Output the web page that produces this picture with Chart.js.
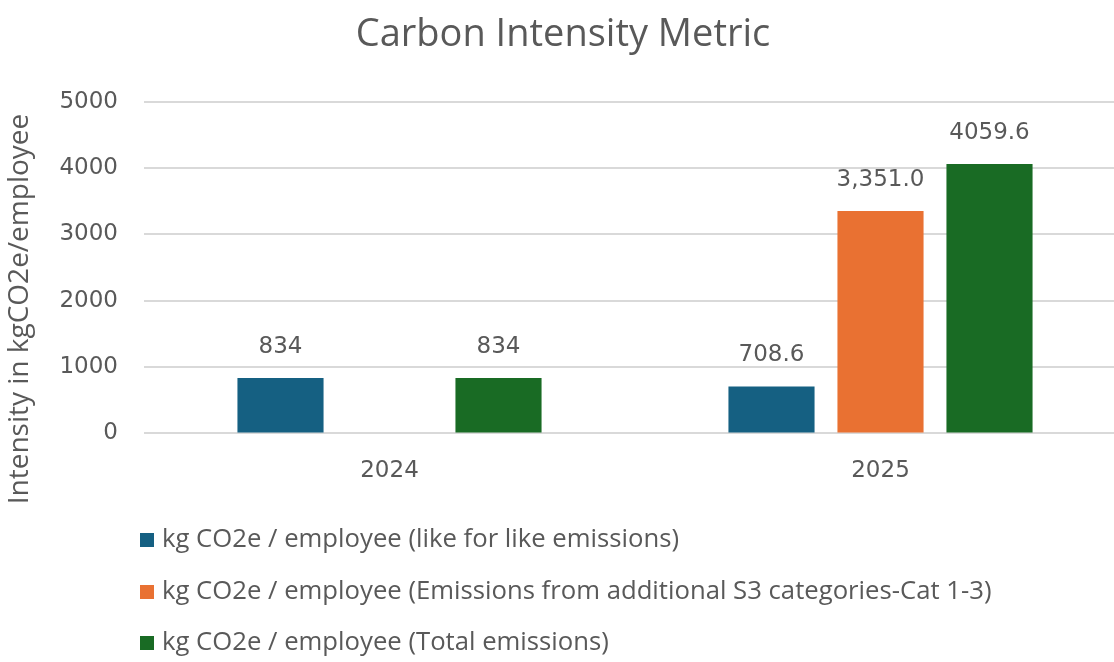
<!DOCTYPE html>
<html><head><meta charset="utf-8">
<script src="https://cdn.jsdelivr.net/npm/chart.js@4.4.1/dist/chart.umd.min.js"></script>
<style>
html,body{margin:0;padding:0;background:#fff;overflow:hidden;width:1114px;height:662px;}
#wrap{position:absolute;left:0;top:0;width:1130px;height:662px;}
</style></head>
<body>
<div id="wrap"><canvas id="c" width="1130" height="662"></canvas></div>
<script>
const categories = ['2024', '2025'];
const seriesNames = [
  'kg CO2e / employee (like for like emissions)',
  'kg CO2e / employee (Emissions from additional S3 categories-Cat 1-3)',
  'kg CO2e / employee (Total emissions)'
];
const likeForLike = [834, 708.6];
const additionalS3 = [null, 3351.0];
const totalEmissions = [834, 4059.6];
const likeForLikeLabels = ['834', '708.6'];
const additionalS3Labels = ['', '3,351.0'];
const totalLabels = ['834', '4059.6'];
const yTicks = [0, 1000, 2000, 3000, 4000, 5000];
const yTickLabels = ['0', '1000', '2000', '3000', '4000', '5000'];
const yAxisTitle = 'Intensity in kgCO2e/employee';

const TXT = '#595959';
const NUMFONT = '"DejaVu Sans", sans-serif';
const TXTFONT = '"Open Sans", "Noto Sans", sans-serif';

const valueLabels = {
  id: 'valueLabels',
  afterDatasetsDraw(chart) {
    const ctx = chart.ctx;
    ctx.save();
    ctx.font = '23px ' + NUMFONT;
    ctx.fillStyle = TXT;
    ctx.textAlign = 'center';
    ctx.textBaseline = 'middle';
    chart.data.datasets.forEach((ds, i) => {
      const meta = chart.getDatasetMeta(i);
      meta.data.forEach((bar, j) => {
        const t = ds.valueLabels[j];
        if (!t || ds.data[j] == null) return;
        ctx.fillText(t, bar.x, bar.y - 31);
      });
    });
    ctx.restore();
  }
};

const extraText = {
  id: 'extraText',
  afterDraw(chart) {
    const ctx = chart.ctx;
    ctx.save();
    ctx.font = '28px ' + TXTFONT;
    ctx.fillStyle = TXT;
    ctx.textAlign = 'center';
    ctx.textBaseline = 'middle';
    ctx.translate(20, 309);
    ctx.rotate(-Math.PI / 2);
    ctx.fillText(yAxisTitle, 0, 0);
    ctx.restore();

    ctx.save();
    ctx.font = '25.7px ' + TXTFONT;
    ctx.textBaseline = 'middle';
    ctx.textAlign = 'left';
    const rows = [540, 592, 643];
    chart.data.datasets.forEach((ds, i) => {
      const y = rows[i];
      ctx.fillStyle = ds.backgroundColor;
      ctx.fillRect(140, y - 7, 14, 14);
      ctx.fillStyle = TXT;
      ctx.fillText(ds.label, 162, y);
    });
    ctx.restore();
  }
};

new Chart(document.getElementById('c'), {
  type: 'bar',
  data: {
    labels: categories,
    datasets: [
      { label: seriesNames[0], data: likeForLike, valueLabels: likeForLikeLabels, backgroundColor: '#156082' },
      { label: seriesNames[1], data: additionalS3, valueLabels: additionalS3Labels, backgroundColor: '#E97132' },
      { label: seriesNames[2], data: totalEmissions, valueLabels: totalLabels, backgroundColor: '#196B24' }
    ]
  },
  options: {
    responsive: false,
    animation: false,
    categoryPercentage: 0.666,
    barPercentage: 0.79,
    layout: { padding: { left: 0, right: 4, top: 0, bottom: 161 } },
    plugins: {
      legend: { display: false },
      tooltip: { enabled: false },
      title: {
        display: true,
        text: 'Carbon Intensity Metric',
        color: TXT,
        font: { family: TXTFONT, size: 38, weight: 'normal' },
        padding: { top: 12, bottom: 44 },
        position: 'top'
      }
    },
    scales: {
      x: {
        grid: { display: false },
        border: { display: false },
        ticks: { color: TXT, font: { family: NUMFONT, size: 23 }, padding: 16 }
      },
      y: {
        min: 0, max: 5000,
        afterBuildTicks(scale) { scale.ticks = yTicks.map(v => ({ value: v })); },
        afterFit(scale) { scale.width = 144; },
        grid: { color: '#d9d9d9', lineWidth: 2, drawTicks: false },
        border: { display: false },
        ticks: {
          color: TXT, font: { family: NUMFONT, size: 23 }, padding: 26,
          callback: (v, i) => yTickLabels[i]
        },
        title: { display: false }
      }
    }
  },
  plugins: [valueLabels, extraText]
});
</script>
</body></html>
